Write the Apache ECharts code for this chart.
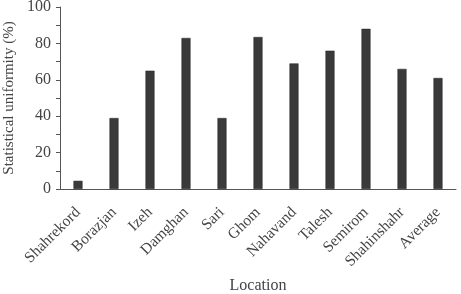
<!DOCTYPE html>
<html><head><meta charset="utf-8">
<script src="https://cdn.jsdelivr.net/npm/echarts@6/dist/echarts.min.js"></script>
<style>html,body{margin:0;padding:0;background:#fff}#c{width:461px;height:294px}</style>
</head><body><div id="c"></div>
<script>
var categories = ["Shahrekord","Borazjan","Izeh","Damghan","Sari","Ghom","Nahavand","Talesh","Semirom","Shahinshahr","Average"];
var uniformity = [4.5, 39, 65, 83, 39, 83.5, 69, 76, 88, 66, 61];
var yTicks = [0, 20, 40, 60, 80, 100];
var font = "Liberation Serif";
var chart = echarts.init(document.getElementById('c'), null, {renderer:'canvas'});
chart.setOption({
  animation:false,
  grid:{left:60, right:5, top:7, bottom:105, containLabel:false, outerBoundsMode:'none'},
  xAxis:{
    type:'category', data:categories,
    name:'Location', nameLocation:'middle', nameGap:89,
    nameTextStyle:{fontFamily:font, fontSize:16, color:'#444'},
    axisLine:{lineStyle:{color:'#555', width:1}},
    axisTick:{show:false},
    axisLabel:{rotate:45, fontFamily:font, fontSize:15.5, color:'#444', margin:21, interval:0}
  },
  yAxis:{
    type:'value', min:0, max:100, interval:10,
    name:'Statistical uniformity (%)', nameLocation:'middle', nameGap:42,
    nameTextStyle:{fontFamily:font, fontSize:15, color:'#444'},
    axisLine:{show:true, lineStyle:{color:'#555', width:1}},
    axisTick:{show:true, length:4, lineStyle:{color:'#555'}},
    splitLine:{show:false},
    axisLabel:{fontFamily:font, fontSize:16, color:'#444', margin:9,
      formatter:function(v){return yTicks.indexOf(v)>=0 ? String(v) : '';}}
  },
  series:[{type:'bar', data:uniformity, barWidth:'25%',
    itemStyle:{color:'#3a3a3a', borderColor:'#222', borderWidth:0.5}}]
});
</script></body></html>
